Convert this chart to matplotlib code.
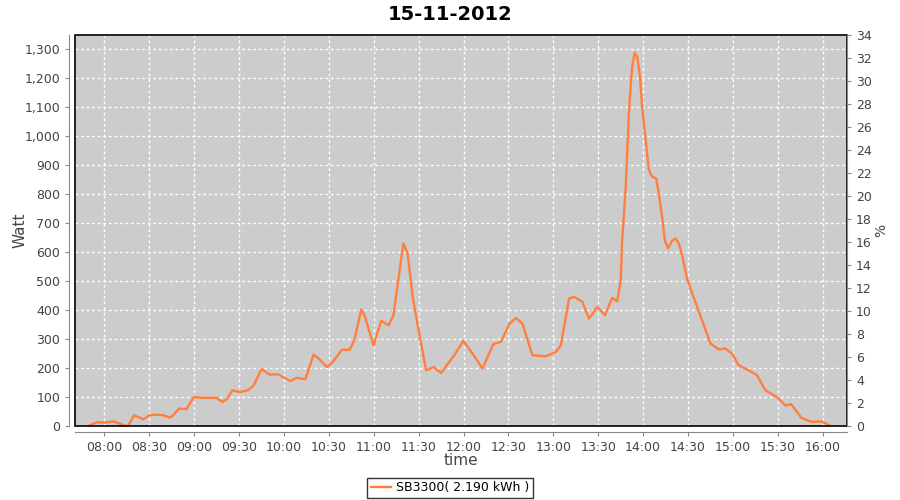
import matplotlib
matplotlib.use("Agg")
import matplotlib.pyplot as plt
import matplotlib.dates as mdates
from matplotlib.patches import Rectangle
import pandas as pd

times = ["07:49:20", "07:55:00", "08:00:30", "08:06:00", "08:10:30", "08:13:50", "08:16:00",
         "08:19:50", "08:22:40", "08:26:00", "08:30:00", "08:35:00", "08:39:20", "08:43:50",
         "08:46:00", "08:49:50", "08:54:50", "08:59:50", "09:05:00", "09:15:00", "09:18:40",
         "09:21:40", "09:25:40", "09:30:30", "09:36:00", "09:39:50", "09:45:00", "09:50:30",
         "09:56:00", "10:04:20", "10:08:40", "10:14:20", "10:19:50", "10:23:20", "10:28:50",
         "10:32:40", "10:38:50", "10:43:50", "10:47:00", "10:51:40", "10:53:50", "10:59:50",
         "11:05:00", "11:10:00", "11:13:10", "11:19:50", "11:22:40", "11:26:00", "11:30:00",
         "11:35:00", "11:40:00", "11:45:00", "11:53:50", "11:59:50", "12:06:00", "12:12:40",
         "12:19:50", "12:25:00", "12:30:30", "12:35:00", "12:39:20", "12:46:00", "12:55:00",
         "13:01:40", "13:05:00", "13:10:30", "13:13:50", "13:19:20", "13:23:50", "13:29:20",
         "13:34:30", "13:39:20", "13:42:40", "13:45:00", "13:46:00", "13:47:00", "13:48:20",
         "13:49:20", "13:50:30", "13:51:40", "13:52:40", "13:54:20", "13:56:00", "13:57:40",
         "13:59:20", "14:01:40", "14:03:50", "14:06:00", "14:08:40", "14:10:30", "14:12:40",
         "14:14:30", "14:16:40", "14:19:20", "14:21:40", "14:23:50", "14:26:00", "14:29:20",
         "14:34:50", "14:39:20", "14:45:00", "14:50:30", "14:54:50", "14:59:20", "15:03:50",
         "15:10:30", "15:16:00", "15:21:40", "15:29:20", "15:35:00", "15:39:00", "15:45:40",
         "15:52:40", "15:59:20", "16:05:00"]
watt = [0, 13, 12, 16, 8, 0, 2,
        37, 31, 23, 37, 39, 37, 29,
        37, 60, 58, 100, 97, 97, 83,
        92, 123, 117, 123, 140, 196, 177,
        178, 155, 166, 161, 246, 232, 203,
        221, 263, 262, 295, 401, 382, 278,
        362, 347, 382, 629, 594, 445, 330,
        192, 203, 183, 244, 293, 250, 198,
        282, 290, 351, 372, 353, 244, 240,
        255, 278, 439, 445, 428, 370, 410,
        382, 441, 430, 500, 640, 715, 824,
        939, 1077, 1169, 1238, 1286, 1272, 1215,
        1100, 985, 882, 859, 853, 801, 721,
        640, 612, 638, 646, 629, 590, 508,
        428, 364, 284, 264, 267, 250, 209,
        192, 175, 123, 100, 71, 75, 28,
        14, 16, 0]

day = "2012-11-15"
title = "15-11-2012"
series_name = "SB3300( 2.190 kWh )"

t = pd.to_datetime([day + " " + s for s in times])

fig = plt.figure(figsize=(9, 5), dpi=100)
ax = fig.add_axes([75 / 900, 1 - 426 / 500, 772 / 900, 391 / 500])
ax.set_facecolor("#cccccc")

line, = ax.plot(t, watt, color="#ff7f3f", lw=1.7, label=series_name, zorder=3)

ax.set_xlim(pd.Timestamp(day + " 07:40:25"), pd.Timestamp(day + " 16:16:12"))
ax.set_ylim(0, 1347)
ax.yaxis.set_major_locator(plt.MultipleLocator(100))
ax.yaxis.set_major_formatter(plt.FuncFormatter(lambda v, p: f"{int(v):,}"))
ax.xaxis.set_major_locator(mdates.MinuteLocator(byminute=[0, 30]))
ax.xaxis.set_major_formatter(mdates.DateFormatter("%H:%M"))

ax.grid(True, color="white", lw=1, ls=(0, (2, 2)))
ax.set_axisbelow(True)

# Achsen wie JFreeChart: graue Achslinie etwas abgesetzt
for s in ["top", "right"]:
    ax.spines[s].set_visible(False)
for s in ["left", "bottom"]:
    ax.spines[s].set_position(("outward", 4))
    ax.spines[s].set_color("#888888")
ax.tick_params(colors="#888888", labelcolor="#444444", labelsize=9, length=3)

ax.add_patch(Rectangle((0, 0), 1, 1, transform=ax.transAxes, fill=False,
                       ec="black", lw=1.2, zorder=5, clip_on=False))

ax.set_xlabel("time", fontsize=11, color="#444444")
ax.set_ylabel("Watt", fontsize=11, color="#444444")
ax.xaxis.set_label_coords(0.5, -0.069)
ax.yaxis.set_label_coords(-0.062, 0.5)

ax2 = ax.twinx()
ax2.set_ylim(0, 34)
ax2.yaxis.set_major_locator(plt.MultipleLocator(2))
for s in ["top", "left", "bottom"]:
    ax2.spines[s].set_visible(False)
ax2.spines["right"].set_color("#888888")
ax2.tick_params(colors="#888888", labelcolor="#444444", labelsize=9, length=3)
ax2.set_ylabel("%", fontsize=10, color="#444444")
ax2.yaxis.set_label_coords(1.035, 0.5)

fig.suptitle(title, fontsize=14, fontweight="bold", y=0.99)

fig.legend(handles=[line], loc="lower center", bbox_to_anchor=(0.5, 0.004),
           borderaxespad=0, fontsize=9, frameon=True, fancybox=False, edgecolor="black",
           handlelength=1.6, handletextpad=0.4, borderpad=0.3)

fig.savefig("out.png", dpi=100)
